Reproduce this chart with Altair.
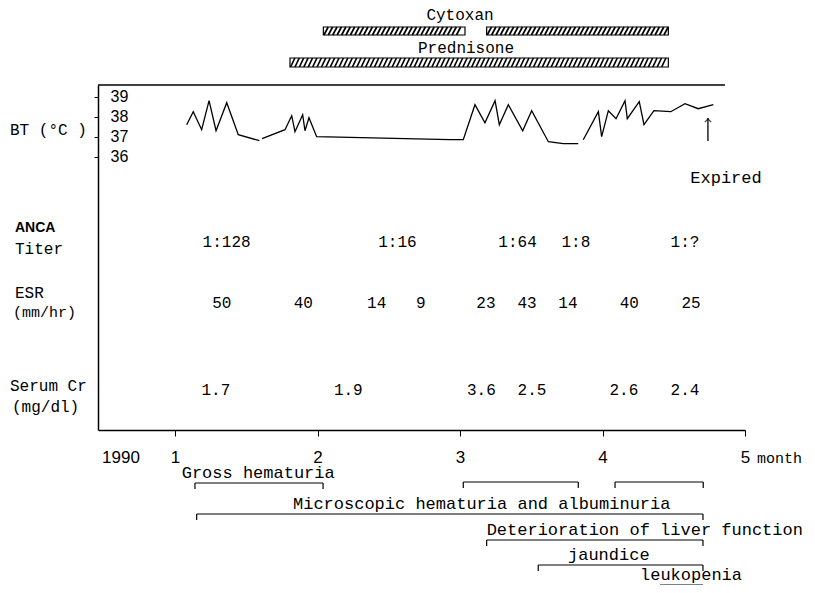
import altair as alt
import pandas as pd

# ---------------- data (time in months of 1990) ----------------
bt_month_1 = [1.082, 1.128, 1.187, 1.239, 1.288, 1.363, 1.444, 1.592]
bt_temp_1 = [37.6, 38.25, 37.35, 38.8, 37.3, 38.7, 37.1, 36.8]
bt_month_2 = [1.611, 1.772, 1.819, 1.842, 1.896, 1.912, 1.940, 1.994, 2.930, 3.023,
              3.105, 3.175, 3.246, 3.276, 3.339, 3.440, 3.503, 3.620, 3.725, 3.830]
bt_temp_2 = [36.9, 37.35, 38.05, 37.25, 38.1, 37.3, 37.95, 37.0, 36.85, 36.85,
             38.6, 37.7, 38.8, 37.6, 38.6, 37.3, 38.3, 36.75, 36.65, 36.65]
bt_month_3 = [3.865, 3.971, 3.994, 4.041, 4.095, 4.158, 4.174, 4.258, 4.291, 4.361,
              4.479, 4.579, 4.672, 4.778]
bt_temp_3 = [36.85, 38.25, 37.0, 38.3, 37.9, 38.8, 37.9, 38.75, 37.6, 38.3,
             38.25, 38.65, 38.4, 38.6]

anca_month = [1.362, 2.561, 3.404, 3.813, 4.579]
anca_titer = ["1:128", "1:16", "1:64", "1:8", "1:?"]

esr_month = [1.328, 1.900, 2.415, 2.725, 3.182, 3.470, 3.757, 4.188, 4.621]
esr_value = [50, 40, 14, 9, 23, 43, 14, 40, 25]

cr_month = [1.287, 2.216, 3.150, 3.505, 4.150, 4.579]
cr_value = [1.7, 1.9, 3.6, 2.5, 2.6, 2.4]

drug_name = ["Cytoxan", "Cytoxan", "Prednisone"]
drug_start = [2.041, 3.187, 1.807]
drug_end = [3.035, 4.462, 4.462]

event_name = ["Gross hematuria", "Gross hematuria 2", "Gross hematuria 3",
              "Microscopic hematuria and albuminuria",
              "Deterioration of liver function", "jaundice", "leukopenia"]
event_start = [1.140, 3.023, 4.088, 1.152, 3.187, 3.549, 4.404]
event_end = [2.039, 3.830, 4.707, 4.705, 4.705, 4.705, 4.705]
event_text_month = [1.047, None, None, 1.828, 3.187, 3.758, 4.263]

expired_month = 4.74
month_ticks = [1, 2, 3, 4, 5]
temp_ticks = [36, 37, 38, 39]

# ---------------- tables ----------------
bt = pd.DataFrame({
    "month": bt_month_1 + bt_month_2 + bt_month_3,
    "temp": bt_temp_1 + bt_temp_2 + bt_temp_3,
    "seg": [1] * len(bt_month_1) + [2] * len(bt_month_2) + [3] * len(bt_month_3),
})
anca = pd.DataFrame({"month": anca_month, "label": anca_titer})
esr = pd.DataFrame({"month": esr_month, "value": esr_value})
cr = pd.DataFrame({"month": cr_month, "value": cr_value})
drugs = pd.DataFrame({"name": drug_name, "start": drug_start, "end": drug_end})
events = pd.DataFrame({"name": event_name, "start": event_start, "end": event_end,
                       "text_month": event_text_month})

# ---------------- styling ----------------
MONO = "Liberation Mono"
SANS = "Liberation Sans"
W, H = 647, 345
xscale = alt.Scale(domain=[0.4596, 5], nice=False, zero=False)
yscale = alt.Scale(domain=[22.335, 39.585], nice=False, zero=False)

layers = []

# frame top line
layers.append(alt.Chart(pd.DataFrame({"a": [0]})).mark_rule(color="black", strokeWidth=1.5).encode(
    x=alt.value(0), x2=alt.value(627), y=alt.value(0)))

# body temperature
layers.append(alt.Chart(bt).mark_line(color="black", strokeWidth=1.3).encode(
    x=alt.X("month:Q", scale=xscale,
            axis=alt.Axis(values=month_ticks, format="d", title=None, grid=False,
                          domainColor="black", domainWidth=1.5, tickColor="black",
                          tickSize=6, labelPadding=13, labelFont=SANS, labelFontSize=17,
                          labelColor="black", labelFlush=False, labelOverlap=False)),
    y=alt.Y("temp:Q", scale=yscale,
            axis=alt.Axis(values=temp_ticks, title=None, grid=False, domainColor="black",
                          domainWidth=1.5, tickColor="black", tickSize=4,
                          labelAlign="left", labelPadding=-16, labelFont=SANS,
                          labelFontSize=16, labelColor="black", labelBaseline="middle",
                          labelOverlap=False, labelBound=False)),
    detail="seg:N",
    order="month:Q",
))

# expired arrow
exp_df = pd.DataFrame({"month": [expired_month]})
layers.append(alt.Chart(exp_df).mark_rule(color="black", strokeWidth=1.3).encode(
    x=alt.X("month:Q", scale=xscale), y=alt.value(33), y2=alt.value(56)))
layers.append(alt.Chart(exp_df).mark_point(shape="M -1 1 L 0 0 L 1 1", filled=False,
                                           color="black", strokeWidth=1.3, size=40).encode(
    x=alt.X("month:Q", scale=xscale), y=alt.value(34)))
layers.append(alt.Chart(exp_df).mark_text(text="Expired", font=MONO, fontSize=17,
                                          color="black").encode(
    x=alt.value(628), y=alt.value(93)))

# left row labels
row_labels = [
    ("BT (°C )", -88, 45, MONO, 16, "normal"),
    ("ANCA", -83, 143, "Liberation Sans Narrow, Liberation Sans", 14, "bold"),
    ("Titer", -83, 164, MONO, 16, "normal"),
    ("ESR", -83, 208, MONO, 16, "normal"),
    ("(mm/hr)", -85, 227, MONO, 15, "normal"),
    ("Serum Cr", -88, 301, MONO, 16, "normal"),
    ("(mg/dl)", -86, 322, MONO, 16, "normal"),
]
for txt, xx, yy, fnt, fs, fw in row_labels:
    layers.append(alt.Chart(pd.DataFrame({"a": [0]})).mark_text(
        text=txt, font=fnt, fontSize=fs, fontWeight=fw, align="left", baseline="middle",
        color="black").encode(x=alt.value(xx), y=alt.value(yy)))

# row values
layers.append(alt.Chart(anca).mark_text(font=MONO, fontSize=16, color="black").encode(
    x=alt.X("month:Q", scale=xscale), y=alt.value(157), text="label:N"))
layers.append(alt.Chart(esr).mark_text(font=MONO, fontSize=16, color="black").encode(
    x=alt.X("month:Q", scale=xscale), y=alt.value(218), text="value:Q"))
layers.append(alt.Chart(cr).mark_text(font=MONO, fontSize=16, color="black").encode(
    x=alt.X("month:Q", scale=xscale), y=alt.value(305), text=alt.Text("value:Q", format=".1f")))

# x-axis extra labels
layers.append(alt.Chart(pd.DataFrame({"a": [0]})).mark_text(
    text="1990", font=SANS, fontSize=17, color="black").encode(x=alt.value(23), y=alt.value(373)))
layers.append(alt.Chart(pd.DataFrame({"a": [0]})).mark_text(
    text="month", font=MONO, fontSize=15, align="left", color="black").encode(
    x=alt.value(659), y=alt.value(373)))

# treatment bars
bar_rows = {"Cytoxan": (-58, -50), "Prednisone": (-27, -18)}
for name, (yt, yb) in bar_rows.items():
    layers.append(alt.Chart(drugs).transform_filter(alt.datum.name == name).mark_rect(
        fill="white", stroke="black", strokeWidth=1.2).encode(
        x=alt.X("start:Q", scale=xscale), x2="end:Q", y=alt.value(yt), y2=alt.value(yb)))
slant, step = 0.03, 0.031
for name, s, e in zip(drug_name, drug_start, drug_end):
    yt, yb = bar_rows[name]
    layers.append(alt.Chart(alt.sequence(start=s + 0.004, stop=e - slant, step=step, as_="t"))
                  .transform_calculate(t2=f"datum.t + {slant}")
                  .mark_rule(color="black", strokeWidth=1.7).encode(
        x=alt.X("t2:Q", scale=xscale), x2="t:Q", y=alt.value(yt), y2=alt.value(yb)))
layers.append(alt.Chart(pd.DataFrame({"a": [0]})).mark_text(
    text="Cytoxan", font=MONO, fontSize=16, color="black").encode(x=alt.value(362), y=alt.value(-70)))
layers.append(alt.Chart(pd.DataFrame({"a": [0]})).mark_text(
    text="Prednisone", font=MONO, fontSize=16, color="black").encode(x=alt.value(368), y=alt.value(-37)))

# event brackets
bracket_y = [398, 397, 397, 429, 455, 480, 500]
for name, yb in zip(event_name, bracket_y):
    src = alt.Chart(events).transform_filter(alt.datum.name == name)
    layers.append(src.mark_rule(color="black", strokeWidth=1.2).encode(
        x=alt.X("start:Q", scale=xscale), x2="end:Q", y=alt.value(yb)))
    layers.append(src.mark_rule(color="black", strokeWidth=1.2).encode(
        x=alt.X("start:Q", scale=xscale), y=alt.value(yb), y2=alt.value(yb + 6)))
    layers.append(src.mark_rule(color="black", strokeWidth=1.2).encode(
        x=alt.X("end:Q", scale=xscale), y=alt.value(yb), y2=alt.value(yb + 6)))
    layers.append(src.transform_filter("isValid(datum.text_month)").mark_text(
        font=MONO, fontSize=17, align="left", baseline="bottom", color="black").encode(
        x=alt.X("text_month:Q", scale=xscale), y=alt.value(yb - 1),
        text="name:N"))

chart = alt.layer(*layers).properties(
    width=W, height=H,
    padding={"left": 90, "top": 77, "right": 62, "bottom": 155},
    autosize=alt.AutoSizeParams(type="none"),
).configure_view(strokeWidth=0)

chart.save("out.html", embed_options={"renderer": "svg", "actions": False})
